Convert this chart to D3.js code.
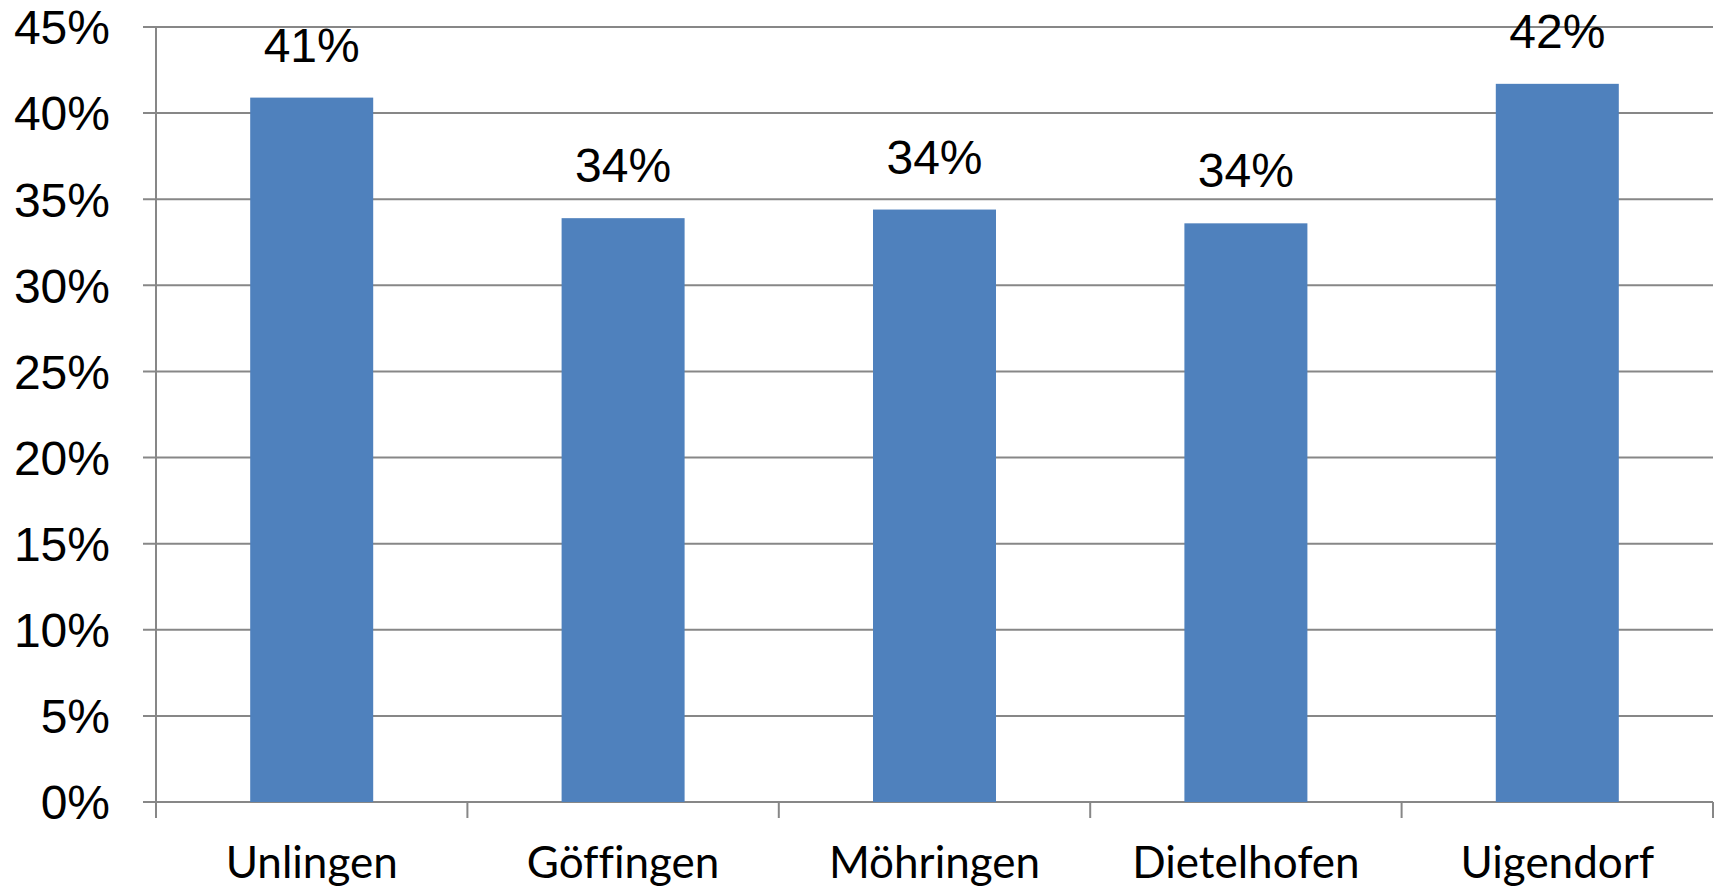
<html>
<head>
  <meta charset="utf-8">
  <style>
    body { margin: 0; background: #fff; }
    svg { display: block; }
  </style>
</head>
<body>
  <div id="chart"></div>
  <script src="https://cdn.jsdelivr.net/npm/d3@7"></script>
  <script>
    'use strict';

    // data
    var categories = ['Unlingen', 'Göffingen', 'Möhringen', 'Dietelhofen', 'Uigendorf'];
    var values = [0.409, 0.339, 0.344, 0.336, 0.417];
    var yTicks = [0, 0.05, 0.10, 0.15, 0.20, 0.25, 0.30, 0.35, 0.40, 0.45];

    var W = 1715, H = 886;
    var plotLeft = 156, plotRight = 1713, plotTop = 27, plotBottom = 802;

    var svg = d3.select('#chart').append('svg')
      .attr('width', W).attr('height', H);

    var x = d3.scaleBand().domain(categories).range([plotLeft, plotRight]).padding(0);
    var y = d3.scaleLinear().domain([0, 0.45]).range([plotBottom, plotTop]);
    var pct = d3.format('.0%');

    // gridlines + y ticks
    svg.append('g').selectAll('line').data(yTicks).enter().append('line')
      .attr('x1', plotLeft - 13).attr('x2', plotRight)
      .attr('y1', function(d) { return y(d); })
      .attr('y2', function(d) { return y(d); })
      .attr('stroke', '#878787').attr('stroke-width', 2);

    svg.append('g').selectAll('text').data(yTicks).enter().append('text')
      .attr('x', 110)
      .attr('y', function(d) { return y(d); })
      .attr('dy', '0.36em')
      .attr('text-anchor', 'end')
      .style('font-family', '"Liberation Sans", Arial, sans-serif')
      .style('font-size', '48px')
      .text(pct);

    // y axis line
    svg.append('line')
      .attr('x1', plotLeft).attr('x2', plotLeft)
      .attr('y1', plotTop).attr('y2', plotBottom + 16)
      .attr('stroke', '#878787').attr('stroke-width', 2);

    // x ticks at category boundaries
    var bounds = categories.map(function(c) { return x(c) + x.bandwidth(); });
    svg.append('g').selectAll('line').data(bounds).enter().append('line')
      .attr('x1', function(d) { return d; }).attr('x2', function(d) { return d; })
      .attr('y1', plotBottom).attr('y2', plotBottom + 16)
      .attr('stroke', '#878787').attr('stroke-width', 2);

    // bars
    var bw = x.bandwidth() * 0.395;
    svg.append('g').selectAll('rect').data(values).enter().append('rect')
      .attr('x', function(d, i) { return x(categories[i]) + (x.bandwidth() - bw) / 2; })
      .attr('y', function(d) { return y(d); })
      .attr('width', bw)
      .attr('height', function(d) { return plotBottom - y(d); })
      .attr('fill', '#4f81bd');

    // value labels
    svg.append('g').selectAll('text').data(values).enter().append('text')
      .attr('x', function(d, i) { return x(categories[i]) + x.bandwidth() / 2; })
      .attr('y', function(d) { return y(d) - 36; })
      .attr('text-anchor', 'middle')
      .style('font-family', '"Liberation Sans", Arial, sans-serif')
      .style('font-size', '48px')
      .text(pct);

    // category labels
    svg.append('g').selectAll('text').data(categories).enter().append('text')
      .attr('x', function(d) { return x(d) + x.bandwidth() / 2; })
      .attr('y', 878)
      .attr('text-anchor', 'middle')
      .style('font-family', 'Lato, "Open Sans", sans-serif')
      .style('font-variant-ligatures', 'none')
      .style('font-size', '44px')
      .text(function(d) { return d; });
  </script>
</body>
</html>
